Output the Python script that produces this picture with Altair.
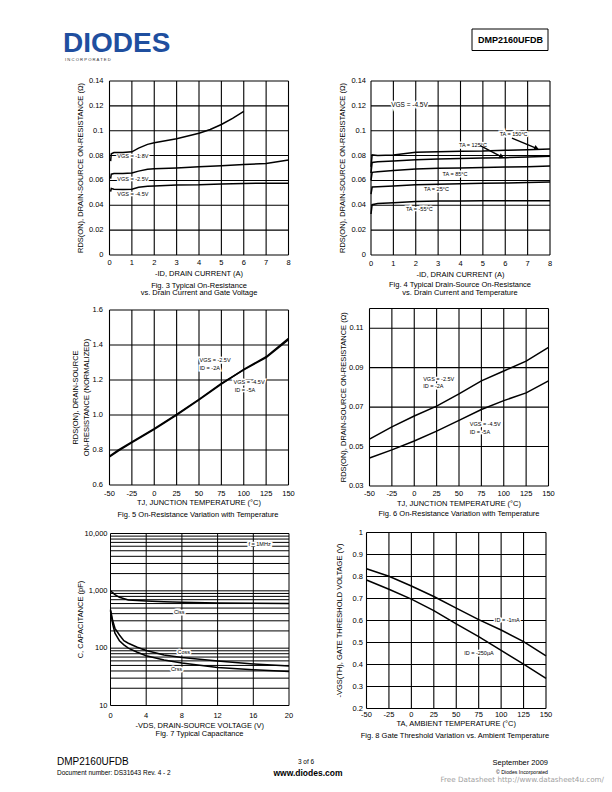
import altair as alt
import pandas as pd

FONT = "Liberation Sans"
DUMMY = pd.DataFrame({"d": [0]})

# ---------------- Fig. 3 : R vs ID for three VGS ----------------
f3_id_18 = [0.05, 0.08, 0.2, 0.6, 1.0, 1.3, 1.7, 2.0, 3.0, 4.0, 4.5, 5.0, 5.5, 6.0]
f3_r_18 = [0.0755, 0.0815, 0.0825, 0.0825, 0.0830, 0.0860, 0.0890, 0.0903, 0.0935, 0.0980, 0.1010, 0.1050, 0.1100, 0.1155]
f3_id_25 = [0.05, 0.08, 0.2, 0.6, 1.0, 1.3, 1.7, 2.0, 3.0, 4.0, 5.0, 6.0, 7.0, 7.5, 8.0]
f3_r_25 = [0.0615, 0.0650, 0.0655, 0.0655, 0.0660, 0.0675, 0.0690, 0.0693, 0.0700, 0.0710, 0.0718, 0.0728, 0.0737, 0.0750, 0.0765]
f3_id_45 = [0.05, 0.08, 0.2, 0.6, 1.0, 1.3, 1.7, 2.0, 3.0, 4.0, 5.0, 6.0, 7.0, 8.0]
f3_r_45 = [0.0510, 0.0535, 0.0530, 0.0528, 0.0530, 0.0545, 0.0553, 0.0556, 0.0563, 0.0565, 0.0571, 0.0576, 0.0577, 0.0578]
f3_xticks = [0, 1, 2, 3, 4, 5, 6, 7, 8]
f3_xlabels = ["0", "1", "2", "3", "4", "5", "6", "7", "8"]
f3_yticks = [0, 0.02, 0.04, 0.06, 0.08, 0.1, 0.12, 0.14]
f3_ylabels = ["0", "0.02", "0.04", "0.06", "0.08", "0.1", "0.12", "0.14"]

# ---------------- Fig. 4 : R vs ID for five temperatures ----------------
f4_id = [0, 0.05, 0.3, 1.0, 2.0, 3.0, 4.0, 5.0, 6.0, 7.0, 8.0]
f4_r_150 = [0.071, 0.0805, 0.0800, 0.0805, 0.0826, 0.0831, 0.0834, 0.0836, 0.0842, 0.0847, 0.0853]
f4_r_125 = [0.066, 0.0745, 0.0750, 0.0756, 0.0767, 0.0772, 0.0777, 0.0780, 0.0783, 0.0788, 0.0794]
f4_r_85 = [0.060, 0.0665, 0.0670, 0.0680, 0.0692, 0.0697, 0.0700, 0.0705, 0.0708, 0.0711, 0.0716]
f4_r_25 = [0.049, 0.0547, 0.0550, 0.0555, 0.0566, 0.0570, 0.0574, 0.0577, 0.0579, 0.0583, 0.0587]
f4_r_m55 = [0.033, 0.0405, 0.0415, 0.0420, 0.0430, 0.0434, 0.0435, 0.0436, 0.0437, 0.0437, 0.0437]
f4_xticks = [0, 1, 2, 3, 4, 5, 6, 7, 8]
f4_xlabels = ["0", "1", "2", "3", "4", "5", "6", "7", "8"]
f4_yticks = [0, 0.02, 0.04, 0.06, 0.08, 0.1, 0.12, 0.14]
f4_ylabels = ["0", "0.02", "0.04", "0.06", "0.08", "0.1", "0.12", "0.14"]

# ---------------- Fig. 5 : normalized R vs TJ ----------------
f5_t = [-50, -40, -25, 0, 25, 50, 75, 100, 125, 150]
f5_r_25 = [0.760, 0.795, 0.842, 0.918, 1.000, 1.086, 1.177, 1.261, 1.333, 1.438]
f5_r_45 = [0.765, 0.800, 0.846, 0.922, 1.003, 1.090, 1.180, 1.258, 1.328, 1.430]
f5_xticks = [-50, -25, 0, 25, 50, 75, 100, 125, 150]
f5_xlabels = ["-50", "-25", "0", "25", "50", "75", "100", "125", "150"]
f5_yticks = [0.6, 0.8, 1.0, 1.2, 1.4, 1.6]
f5_ylabels = ["0.6", "0.8", "1.0", "1.2", "1.4", "1.6"]

# ---------------- Fig. 6 : R vs TJ ----------------
f6_t = [-50, -25, 0, 25, 50, 75, 100, 125, 150]
f6_r_25 = [0.0538, 0.0600, 0.0655, 0.0705, 0.0767, 0.0833, 0.0883, 0.0933, 0.1003]
f6_r_45 = [0.0442, 0.0483, 0.0528, 0.0578, 0.0633, 0.0688, 0.0733, 0.0772, 0.0833]
f6_xticks = [-50, -25, 0, 25, 50, 75, 100, 125, 150]
f6_xlabels = ["-50", "-25", "0", "25", "50", "75", "100", "125", "150"]
f6_yticks = [0.03, 0.05, 0.07, 0.09, 0.11]
f6_ylabels = ["0.03", "0.05", "0.07", "0.09", "0.11"]
f6_ygrid = [0.03, 0.05, 0.07, 0.09, 0.11, 0.12]

# ---------------- Fig. 7 : capacitance ----------------
f7_v_iss = [0, 0.5, 1, 2, 3, 4, 6, 8, 12, 16, 20]
f7_c_iss = [1000, 860, 770, 690, 675, 665, 645, 630, 615, 608, 600]
f7_v = [0, 0.25, 0.5, 1, 1.5, 2, 3, 4, 6, 8, 12, 16, 20]
f7_c_oss = [470, 300, 222, 170, 135, 122, 104, 91, 76, 69, 60, 53, 49]
f7_c_rss = [450, 260, 182, 135, 114, 100, 85, 74, 62, 55, 46, 42, 39]
f7_xticks = [0, 4, 8, 12, 16, 20]
f7_xlabels = ["0", "4", "8", "12", "16", "20"]
f7_yticks = [10, 100, 1000, 10000]
f7_ylabels = ["10", "100", "1,000", "10,000"]
f7_ygrid = [10, 20, 30, 40, 50, 60, 70, 80, 90,
            100, 200, 300, 400, 500, 600, 700, 800, 900,
            1000, 2000, 3000, 4000, 5000, 6000, 7000, 8000, 9000, 10000]

# ---------------- Fig. 8 : gate threshold ----------------
f8_t = [-50, -25, 0, 25, 50, 75, 100, 125, 150]
f8_v_1ma = [0.835, 0.801, 0.757, 0.709, 0.656, 0.604, 0.557, 0.504, 0.439]
f8_v_250ua = [0.784, 0.742, 0.697, 0.645, 0.585, 0.527, 0.464, 0.402, 0.337]
f8_xticks = [-50, -25, 0, 25, 50, 75, 100, 125, 150]
f8_xlabels = ["-50", "-25", "0", "25", "50", "75", "100", "125", "150"]
f8_yticks = [0.2, 0.3, 0.4, 0.5, 0.6, 0.7, 0.8, 0.9, 1.0]
f8_ylabels = ["0.2", "0.3", "0.4", "0.5", "0.6", "0.7", "0.8", "0.9", "1"]


def curve_df(series):
    rows = []
    for name, xs, ys in series:
        for a, b in zip(xs, ys):
            rows.append({"x": a, "y": b, "s": name})
    return pd.DataFrame(rows)


def grid(xs, ys, xg, yg, xdom, ydom, sw=1.1):
    v = alt.Chart(pd.DataFrame({"v": xg})).mark_rule(color="black", strokeWidth=sw).encode(
        x=alt.X("v:Q", scale=xs, axis=None),
        y=alt.YDatum(ydom[0], scale=ys, axis=None),
        y2=alt.datum(ydom[1]))
    h = alt.Chart(pd.DataFrame({"v": yg})).mark_rule(color="black", strokeWidth=sw).encode(
        y=alt.Y("v:Q", scale=ys, axis=None),
        x=alt.XDatum(xdom[0], scale=xs, axis=None),
        x2=alt.datum(xdom[1]))
    return [v, h]


def axes(xs, ys, xdom, ydom, ymid, xticks, xlabs, yticks, ylabs, xtitle, ytitles,
         xl_dy, xt_dy, yl_dx, yt_dys, size=7.5):
    out = []
    out.append(alt.Chart(pd.DataFrame({"v": xticks, "t": xlabs})).mark_text(
        align="center", baseline="middle", font=FONT, fontSize=size, color="black", dy=xl_dy).encode(
        x=alt.X("v:Q", scale=xs, axis=None),
        y=alt.YDatum(ydom[0], scale=ys, axis=None),
        text="t:N"))
    out.append(alt.Chart(pd.DataFrame({"v": yticks, "t": ylabs})).mark_text(
        align="right", baseline="middle", font=FONT, fontSize=size, color="black", dx=yl_dx).encode(
        y=alt.Y("v:Q", scale=ys, axis=None),
        x=alt.XDatum(xdom[0], scale=xs, axis=None),
        text="t:N"))
    out.append(alt.Chart(DUMMY).mark_text(
        text=xtitle, align="center", baseline="middle", font=FONT, fontSize=size,
        color="black", dy=xt_dy).encode(
        x=alt.XDatum((xdom[0] + xdom[1]) / 2, scale=xs, axis=None),
        y=alt.YDatum(ydom[0], scale=ys, axis=None)))
    for t, d in zip(ytitles, yt_dys):
        out.append(alt.Chart(DUMMY).mark_text(
            text=t, align="center", baseline="middle", font=FONT, fontSize=size,
            color="black", angle=270, dy=d).encode(
            x=alt.XDatum(xdom[0], scale=xs, axis=None),
            y=alt.YDatum(ymid, scale=ys, axis=None)))
    return out


def lines(df, xs, ys, sw=1.5):
    return alt.Chart(df).mark_line(color="black", strokeWidth=sw).encode(
        x=alt.X("x:Q", scale=xs, axis=None),
        y=alt.Y("y:Q", scale=ys, axis=None),
        detail="s:N")


def note(txt, x, y, xs, ys, size=5.5, align="left", halo=True):
    base = alt.Chart(DUMMY).encode(
        x=alt.XDatum(x, scale=xs, axis=None),
        y=alt.YDatum(y, scale=ys, axis=None))
    out = []
    if halo:
        out.append(base.mark_text(text=txt, align=align, baseline="middle", font=FONT,
                                  fontSize=size, fill="white", stroke="white", strokeWidth=3))
    out.append(base.mark_text(text=txt, align=align, baseline="middle", font=FONT,
                              fontSize=size, color="black"))
    return out


R_TITLE = "RDS(ON), DRAIN-SOURCE ON-RESISTANCE (Ω)"

# ---------------- Fig. 3 ----------------
xs3 = alt.Scale(domain=[0, 8], range=[109.5, 288.5], nice=False, zero=False)
ys3 = alt.Scale(domain=[0, 0.14], range=[255, 81], nice=False, zero=False)
df3 = curve_df([("-1.8", f3_id_18, f3_r_18), ("-2.5", f3_id_25, f3_r_25), ("-4.5", f3_id_45, f3_r_45)])
fig3 = alt.layer(
    *grid(xs3, ys3, f3_xticks, f3_yticks, [0, 8], [0, 0.14]),
    *note("VGS = -1.8V", 0.35, 0.0796, xs3, ys3),
    *note("VGS = -2.5V", 0.35, 0.0611, xs3, ys3),
    *note("VGS = -4.5V", 0.35, 0.0490, xs3, ys3),
    lines(df3, xs3, ys3),
    *axes(xs3, ys3, [0, 8], [0, 0.14], 0.07, f3_xticks, f3_xlabels, f3_yticks, f3_ylabels,
          "-ID, DRAIN CURRENT (A)", [R_TITLE], 7.5, 19, -6, [-29]),
)

# ---------------- Fig. 4 ----------------
xs4 = alt.Scale(domain=[0, 8], range=[371, 550], nice=False, zero=False)
ys4 = alt.Scale(domain=[0, 0.14], range=[255, 81], nice=False, zero=False)
df4 = curve_df([("150", f4_id, f4_r_150), ("125", f4_id, f4_r_125), ("85", f4_id, f4_r_85),
                ("25", f4_id, f4_r_25), ("-55", f4_id, f4_r_m55)])
arrow1 = pd.DataFrame({"x": [6.3, 7.4], "y": [0.0940, 0.0858]})
arrow2 = pd.DataFrame({"x": [4.88, 5.84], "y": [0.0880, 0.0790]})
arrows4 = [
    alt.Chart(arrow1).mark_line(color="black", strokeWidth=1.4).encode(
        x=alt.X("x:Q", scale=xs4, axis=None), y=alt.Y("y:Q", scale=ys4, axis=None)),
    alt.Chart(arrow2).mark_line(color="black", strokeWidth=1.4).encode(
        x=alt.X("x:Q", scale=xs4, axis=None), y=alt.Y("y:Q", scale=ys4, axis=None)),
    alt.Chart(DUMMY).mark_point(shape="triangle-right", angle=23, filled=True, size=30,
                                color="black", opacity=1).encode(
        x=alt.XDatum(7.4, scale=xs4, axis=None), y=alt.YDatum(0.0858, scale=ys4, axis=None)),
    alt.Chart(DUMMY).mark_point(shape="triangle-right", angle=27, filled=True, size=30,
                                color="black", opacity=1).encode(
        x=alt.XDatum(5.84, scale=xs4, axis=None), y=alt.YDatum(0.0790, scale=ys4, axis=None)),
]
fig4 = alt.layer(
    *grid(xs4, ys4, f4_xticks, f4_yticks, [0, 8], [0, 0.14]),
    *note("VGS = -4.5V", 0.9, 0.121, xs4, ys4, size=6.5),
    *note("TA = 150°C", 5.75, 0.0973, xs4, ys4),
    *note("TA = 125°C", 3.93, 0.0888, xs4, ys4),
    *note("TA = 85°C", 3.2, 0.0655, xs4, ys4),
    *note("TA = 25°C", 2.37, 0.0528, xs4, ys4),
    *note("TA = -55°C", 1.56, 0.0368, xs4, ys4),
    *arrows4,
    lines(df4, xs4, ys4),
    *axes(xs4, ys4, [0, 8], [0, 0.14], 0.07, f4_xticks, f4_xlabels, f4_yticks, f4_ylabels,
          "-ID, DRAIN CURRENT (A)", [R_TITLE], 8.5, 20, -5, [-28]),
)

# ---------------- Fig. 5 ----------------
xs5 = alt.Scale(domain=[-50, 150], range=[109.5, 288.5], nice=False, zero=False)
ys5 = alt.Scale(domain=[0.6, 1.6], range=[485, 310], nice=False, zero=False)
df5 = curve_df([("-2.5", f5_t, f5_r_25), ("-4.5", f5_t, f5_r_45)])
fig5 = alt.layer(
    *grid(xs5, ys5, f5_xticks, f5_yticks, [-50, 150], [0.6, 1.6]),
    *note("VGS = -2.5V", 50.6, 1.314, xs5, ys5),
    *note("ID = -2A", 50.6, 1.267, xs5, ys5),
    *note("VGS = -4.5V", 88.6, 1.19, xs5, ys5),
    *note("ID = -5A", 90.0, 1.143, xs5, ys5),
    lines(df5, xs5, ys5),
    *axes(xs5, ys5, [-50, 150], [0.6, 1.6], 1.1, f5_xticks, f5_xlabels, f5_yticks, f5_ylabels,
          "TJ, JUNCTION TEMPERATURE (°C)",
          ["RDS(ON), DRAIN-SOURCE", "ON-RESISTANCE (NORMALIZED)"], 8.5, 18, -6.5, [-33.5, -22.5]),
)

# ---------------- Fig. 6 ----------------
xs6 = alt.Scale(domain=[-50, 150], range=[369.5, 548.5], nice=False, zero=False)
ys6 = alt.Scale(domain=[0.03, 0.12], range=[486, 308.5], nice=False, zero=False)
df6 = curve_df([("-2.5", f6_t, f6_r_25), ("-4.5", f6_t, f6_r_45)])
fig6 = alt.layer(
    *grid(xs6, ys6, f6_xticks, f6_ygrid, [-50, 150], [0.03, 0.12]),
    *note("VGS = -2.5V", 10, 0.0845, xs6, ys6),
    *note("ID = -2A", 10, 0.0805, xs6, ys6),
    *note("VGS = -4.5V", 62, 0.0613, xs6, ys6),
    *note("ID = -5A", 62, 0.0575, xs6, ys6),
    lines(df6, xs6, ys6),
    *axes(xs6, ys6, [-50, 150], [0.03, 0.12], 0.075, f6_xticks, f6_xlabels, f6_yticks, f6_ylabels,
          "TJ, JUNCTION TEMPERATURE (°C)", [R_TITLE], 8, 18, -6, [-26]),
)

# ---------------- Fig. 7 ----------------
xs7 = alt.Scale(domain=[0, 20], range=[110.5, 289], nice=False, zero=False)
ys7 = alt.Scale(type="log", domain=[10, 10000], range=[705.5, 533.5], nice=False)
df7 = curve_df([("Ciss", f7_v_iss, f7_c_iss), ("Coss", f7_v, f7_c_oss), ("Crss", f7_v, f7_c_rss)])
fig7 = alt.layer(
    *grid(xs7, ys7, f7_xticks, f7_ygrid, [0, 20], [10, 10000], sw=1.0),
    *note("f = 1MHz", 16.7, 6520, xs7, ys7, align="center"),
    *note("Ciss", 7.7, 427, xs7, ys7, align="center"),
    *note("Coss", 8.2, 87, xs7, ys7, align="center"),
    *note("Crss", 7.4, 43.5, xs7, ys7, align="center"),
    lines(df7, xs7, ys7),
    *axes(xs7, ys7, [0, 20], [10, 10000], 316.2, f7_xticks, f7_xlabels, f7_yticks, f7_ylabels,
          "-VDS, DRAIN-SOURCE VOLTAGE (V)", ["C, CAPACITANCE (pF)"], 10, 20.5, -3, [-30]),
)

# ---------------- Fig. 8 ----------------
xs8 = alt.Scale(domain=[-50, 150], range=[366.5, 546], nice=False, zero=False)
ys8 = alt.Scale(domain=[0.2, 1.0], range=[708.5, 532.5], nice=False, zero=False)
df8 = curve_df([("1mA", f8_t, f8_v_1ma), ("250uA", f8_t, f8_v_250ua)])
fig8 = alt.layer(
    *grid(xs8, ys8, f8_xticks, f8_yticks, [-50, 150], [0.2, 1.0]),
    *note("ID = -1mA", 106.9, 0.602, xs8, ys8, align="center"),
    *note("ID = -250µA", 75.3, 0.454, xs8, ys8, align="center"),
    lines(df8, xs8, ys8),
    *axes(xs8, ys8, [-50, 150], [0.2, 1.0], 0.6, f8_xticks, f8_xlabels, f8_yticks, f8_ylabels,
          "TA, AMBIENT TEMPERATURE (°C)", ["-VGS(TH), GATE THRESHOLD VOLTAGE (V)"], 6.5, 15.5, -3.5, [-26.5]),
)


# ---------------- page header / captions / footer ----------------
def ptext(txt, x, y, size, align="left", weight="normal", color="black", font=FONT, baseline="middle"):
    return alt.Chart(DUMMY).mark_text(text=txt, align=align, baseline=baseline, fontSize=size,
                                      fontWeight=weight, color=color, font=font).encode(
        x=alt.value(x), y=alt.value(y))


page = [
    ptext("DIODES", 63, 51.5, 28, weight="bold", color="#1f4f9f", baseline="alphabetic"),
    ptext("I    N    C    O    R    P    O    R    A    T    E    D", 65, 60, 4.2, color="#333333"),
    alt.Chart(DUMMY).mark_rect(fill="white", stroke="black", strokeWidth=1).encode(
        x=alt.value(472), x2=alt.value(548), y=alt.value(29), y2=alt.value(50.5)),
    ptext("DMP2160UFDB", 510.5, 40, 9, align="center", weight="bold"),
    ptext("Fig. 3 Typical On-Resistance", 199, 285.5, 7.5, align="center"),
    ptext("vs. Drain Current and Gate Voltage", 199, 293, 7.5, align="center"),
    ptext("Fig. 4  Typical Drain-Source On-Resistance", 460, 285, 7.5, align="center"),
    ptext("vs. Drain Current and Temperature", 460, 292.5, 7.5, align="center"),
    ptext("Fig. 5 On-Resistance Variation with Temperature", 198, 514.5, 7.5, align="center"),
    ptext("Fig. 6 On-Resistance Variation with Temperature", 459, 514, 7.5, align="center"),
    ptext("Fig. 7 Typical Capacitance", 199.5, 734, 7.5, align="center"),
    ptext("Fig. 8 Gate Threshold Variation vs. Ambient Temperature", 455, 736, 7.5, align="center"),
    ptext("DMP2160UFDB", 57, 762, 10),
    ptext("Document number: DS31643 Rev. 4 - 2", 57, 773, 6.5),
    ptext("3 of 6", 306, 762, 6.5, align="center"),
    ptext("www.diodes.com", 308, 772.5, 8.5, align="center", weight="bold"),
    ptext("September 2009", 548, 763, 7.5, align="right"),
    ptext("© Diodes Incorporated", 548, 771.5, 5.2, align="right"),
    ptext("Free Datasheet http://www.datasheet4u.com/", 604, 780, 7.2, align="right",
          color="#a0a0a0", font="DejaVu Sans"),
]

chart = alt.layer(fig3, fig4, fig5, fig6, fig7, fig8, *page).resolve_scale(
    x="independent", y="independent"
).properties(
    width=612, height=792, padding=0, background="white"
).configure_view(
    strokeWidth=0
)

chart.save("out.html", embed_options={"renderer": "svg", "actions": False})
